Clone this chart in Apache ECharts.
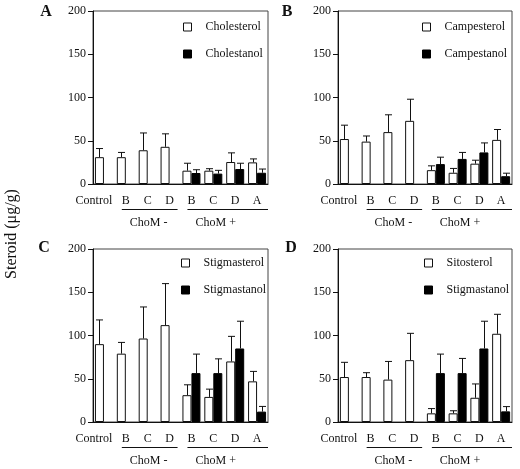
<!DOCTYPE html>
<html><head><meta charset="utf-8">
<script src="https://cdn.jsdelivr.net/npm/echarts@6/dist/echarts.min.js"></script>
<style>html,body{margin:0;padding:0;background:#fff}#c{width:520px;height:469px}</style>
</head><body><div id="c"></div>
<script>
const categories = ['Control','B','C','D','B','C','D','A'];
const groupLabels = ['ChoM -','ChoM +'];
const yTicks = [0, 50, 100, 150, 200];
const panelLetters = ['A','B','C','D'];
const yTitle = 'Steroid (\u03bcg/g)';
const sterolNames = ['Cholesterol','Campesterol','Stigmasterol','Sitosterol'];
const stanolNames = ['Cholestanol','Campestanol','Stigmastanol','Stigmastanol'];

// Panel A
const cholesterol    = [31, 31, 39, 43, 15.4, 15.4, 25.4, 25];
const cholesterolErr = [10, 5.5, 20, 15, 8.6, 2.3, 10.6, 4];
const cholestanol    = [null, null, null, null, 12.7, 12, 17.3, 13];
const cholestanolErr = [null, null, null, null, 3.8, 3.8, 6.7, 4.3];
// Panel B
const campesterol    = [52, 49, 60, 73, 16, 13, 23.5, 51];
const campesterolErr = [16, 6.5, 20, 25, 5, 5, 4, 12];
const campestanol    = [null, null, null, null, 23, 29, 36.5, 9];
const campestanolErr = [null, null, null, null, 8, 7.5, 11, 3.5];
// Panel C
const stigmasterol    = [90, 79, 96.5, 112, 31, 29, 70, 47];
const stigmasterolErr = [28, 13, 36.5, 48, 12, 9, 29, 11.5];
const stigmastanolC    = [null, null, null, null, 56.5, 56.5, 85, 12];
const stigmastanolCErr = [null, null, null, null, 22, 16.5, 31.5, 6];
// Panel D
const sitosterol    = [52, 52, 49, 71.5, 10, 10, 28, 102];
const sitosterolErr = [17, 5, 21, 31, 5.5, 3, 16, 22.5];
const stigmastanolD    = [null, null, null, null, 56.5, 56.5, 85, 12.3];
const stigmastanolDErr = [null, null, null, null, 22, 17, 31.5, 5.5];

const sterols = [cholesterol, campesterol, stigmasterol, sitosterol];
const sterolErrs = [cholesterolErr, campesterolErr, stigmasterolErr, sitosterolErr];
const stanols = [cholestanol, campestanol, stigmastanolC, stigmastanolD];
const stanolErrs = [cholestanolErr, campestanolErr, stigmastanolCErr, stigmastanolDErr];

const FONT = '"Liberation Serif","Times New Roman",serif';
const grids = [
  {left: 93, top: 11, width: 175, height: 173},
  {left: 338, top: 11, width: 174, height: 173},
  {left: 93, top: 249, width: 175, height: 173},
  {left: 338, top: 249, width: 174, height: 173}
];
const legendPos = [[183, 21], [422, 21], [181, 257], [424, 257]];
const letterPos = [[46, 12], [287, 12], [44, 248], [291, 248]];
const BW = 9;

function errRender(offset) {
  return function (params, api) {
    const v = api.value(1), e = api.value(2);
    if (v == null || isNaN(v) || isNaN(e)) return;
    const x = api.value(0);
    const p0 = api.coord([x, v]);
    const p1 = api.coord([x, v + e]);
    const cx = Math.round(p0[0] + offset) + 0.5;
    const cap = 3.5;
    const st = {stroke: '#111', lineWidth: 1};
    return {type: 'group', children: [
      {type: 'line', shape: {x1: cx, y1: p0[1], x2: cx, y2: p1[1]}, style: st},
      {type: 'line', shape: {x1: cx - cap, y1: p1[1], x2: cx + cap, y2: p1[1]}, style: st}
    ]};
  };
}

const option = {
  animation: false,
  backgroundColor: '#fff',
  grid: grids.map(g => Object.assign({show: true, borderColor: '#444', borderWidth: 1, backgroundColor: 'transparent'}, g)),
  xAxis: grids.map((g, i) => ({
    type: 'category', gridIndex: i, data: categories,
    axisLine: {lineStyle: {color: '#111', width: 1}},
    axisTick: {alignWithLabel: true, length: 5, lineStyle: {color: '#111'}},
    axisLabel: {
      fontFamily: FONT, fontSize: 12, color: '#111', margin: 11, interval: 0,
      formatter: (val, idx) => idx === 0 ? '{c|' + val + '}' : val,
      rich: {c: {fontFamily: FONT, fontSize: 12, color: '#111', padding: [0, 20, 0, 0]}}
    }
  })),
  yAxis: grids.map((g, i) => ({
    type: 'value', gridIndex: i, min: yTicks[0], max: yTicks[yTicks.length - 1], interval: yTicks[1] - yTicks[0],
    axisLine: {show: true, lineStyle: {color: '#111', width: 1}},
    axisTick: {show: true, length: 5, lineStyle: {color: '#111'}},
    axisLabel: {fontFamily: FONT, fontSize: 12, color: '#111', margin: 7},
    splitLine: {show: false}
  })),
  legend: grids.map((g, i) => ({
    data: [
      {name: sterolNames[i], itemStyle: {color: '#fff', borderColor: '#111', borderWidth: 1}},
      {name: stanolNames[i], itemStyle: {color: '#000', borderColor: '#000', borderWidth: 1}}
    ],
    orient: 'vertical', left: legendPos[i][0], top: legendPos[i][1], padding: 0,
    itemWidth: 8, itemHeight: 8, itemGap: 15, icon: 'rect', selectedMode: false,
    textStyle: {fontFamily: FONT, fontSize: 12, color: '#111', padding: [0, 0, 0, 9]}
  })),
  series: []
};

for (let i = 0; i < 4; i++) {
  option.series.push({
    name: sterolNames[i], type: 'bar', xAxisIndex: i, yAxisIndex: i,
    data: sterols[i], barWidth: BW, barGap: '0%',
    itemStyle: {color: '#fff', borderColor: '#111', borderWidth: 1}
  });
  option.series.push({
    name: stanolNames[i], type: 'bar', xAxisIndex: i, yAxisIndex: i,
    data: stanols[i], barWidth: BW, barGap: '0%',
    itemStyle: {color: '#000', borderColor: '#000', borderWidth: 1}
  });
  option.series.push({
    type: 'custom', xAxisIndex: i, yAxisIndex: i, z: 5,
    renderItem: errRender(-BW / 2),
    data: sterols[i].map((v, k) => [k, v == null ? NaN : v, sterolErrs[i][k] == null ? NaN : sterolErrs[i][k]])
  });
  option.series.push({
    type: 'custom', xAxisIndex: i, yAxisIndex: i, z: 5,
    renderItem: errRender(BW / 2),
    data: stanols[i].map((v, k) => [k, v == null ? NaN : v, stanolErrs[i][k] == null ? NaN : stanolErrs[i][k]])
  });
}

const chart = echarts.init(document.getElementById('c'), null, {renderer: 'canvas'});
chart.setOption(option);

const graphics = [];
graphics.push({type: 'text', x: 12, y: 234, rotation: Math.PI / 2,
  style: {text: yTitle, font: '16px ' + FONT, fill: '#111', align: 'center', verticalAlign: 'middle'}});
for (let i = 0; i < 4; i++) {
  graphics.push({type: 'text', x: letterPos[i][0], y: letterPos[i][1],
    style: {text: panelLetters[i], font: 'bold 16px ' + FONT, fill: '#111', align: 'center', verticalAlign: 'middle'}});
  const c = k => chart.convertToPixel({xAxisIndex: i}, k);
  const g = grids[i];
  const base = g.top + g.height;
  const ly = base + 25.5;
  const seg = [[c(1) - 4, c(3) + 8], [c(4) - 4, g.left + g.width]];
  seg.forEach((s, j) => {
    graphics.push({type: 'line', shape: {x1: s[0], y1: ly, x2: s[1], y2: ly}, style: {stroke: '#111', lineWidth: 1}});
    const mid = (s[0] + s[1]) / 2 + (j === 0 ? -1 : -12);
    graphics.push({type: 'text', x: mid, y: base + 39,
      style: {text: groupLabels[j], font: '12px ' + FONT, fill: '#111', align: 'center', verticalAlign: 'middle'}});
  });
}
chart.setOption({graphic: graphics});
</script>
</body></html>
